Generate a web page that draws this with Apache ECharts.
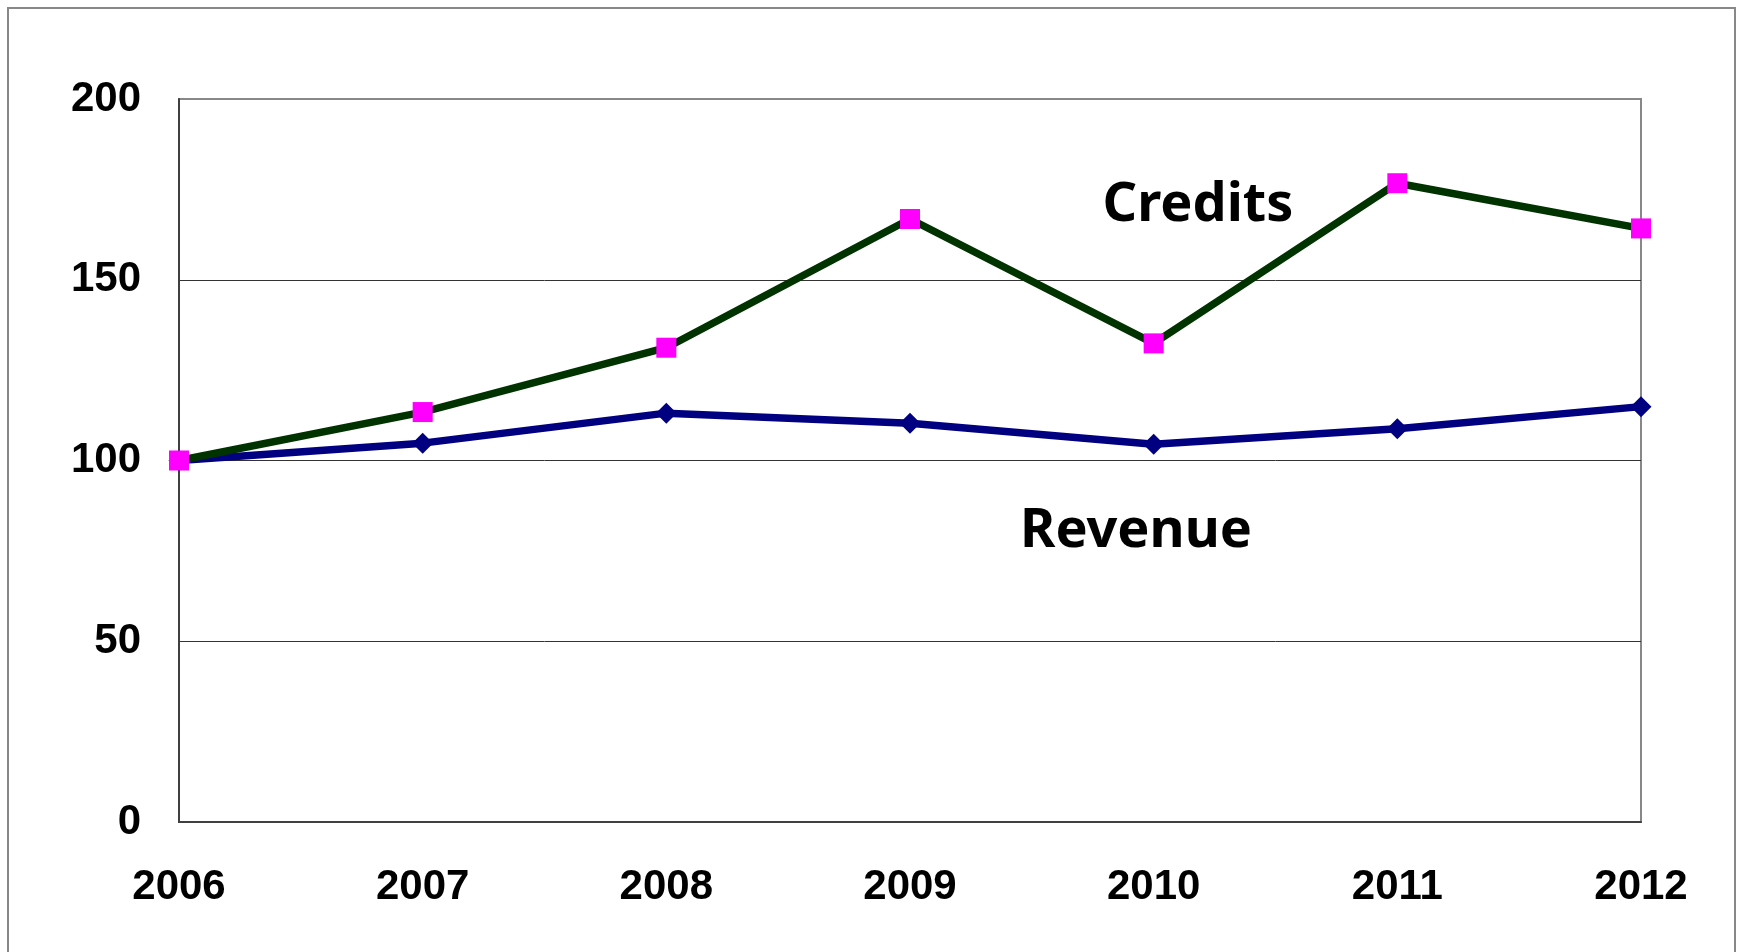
<!DOCTYPE html>
<html>
<head>
<meta charset="utf-8">
<style>html,body{margin:0;padding:0;background:#fff;}#c{width:1742px;height:952px;}</style>
<script src="https://cdn.jsdelivr.net/npm/echarts@6/dist/echarts.min.js"></script>
</head>
<body>
<div id="c"></div>
<script>
const years = ['2006','2007','2008','2009','2010','2011','2012'];
const revenue = [100, 104.8, 113.1, 110.3, 104.5, 108.8, 114.9];
const credits = [100, 113.4, 131.2, 166.8, 132.4, 176.7, 164.2];
const yTicks = { min: 0, max: 200, interval: 50 };
const seriesNames = ['Revenue', 'Credits'];

const chart = echarts.init(document.getElementById('c'), null, { renderer: 'canvas' });
const option = {
  animation: false,
  backgroundColor: '#fff',
  grid: { left: 179, right: 101, top: 99, bottom: 130, show: true, borderColor: '#888', borderWidth: 2, backgroundColor: 'transparent' },
  xAxis: {
    type: 'category', data: years, boundaryGap: false,
    axisLine: { show: true, lineStyle: { color: '#404040', width: 2 } },
    axisTick: { show: false },
    axisLabel: { color: '#000', fontFamily: 'Liberation Sans', fontWeight: 'bold', fontSize: 42, margin: 44 },
    splitLine: { show: false }
  },
  yAxis: {
    type: 'value', min: yTicks.min, max: yTicks.max, interval: yTicks.interval,
    axisLine: { show: true, lineStyle: { color: '#404040', width: 2 } },
    axisTick: { show: false },
    axisLabel: { color: '#000', fontFamily: 'Liberation Sans', fontWeight: 'bold', fontSize: 42, margin: 38 },
    splitLine: { show: true, lineStyle: { color: ['#404040', '#333', '#333', '#333', '#888'], width: 1 } }
  },
  series: [
    {
      name: seriesNames[0], type: 'line', data: revenue,
      symbol: 'diamond', symbolSize: [21, 21],
      lineStyle: { color: '#000080', width: 7.5 },
      itemStyle: { color: '#000080' }, z: 3
    },
    {
      name: seriesNames[1], type: 'line', data: credits,
      symbol: 'rect', symbolSize: 20,
      lineStyle: { color: '#003300', width: 7.5 },
      itemStyle: { color: '#ff00ff' }, z: 4
    }
  ],
  graphic: [
    { type: 'rect', shape: { x: 8, y: 8, width: 1727, height: 960 }, style: { fill: 'none', stroke: '#888', lineWidth: 2 }, z: 0, silent: true },
    { type: 'text', x: 1198, y: 206, style: { text: 'Credits', font: 'bold 54px "Noto Sans"', fill: '#000', textAlign: 'center', textVerticalAlign: 'middle' }, z: 10 },
    { type: 'text', x: 1136, y: 532, style: { text: 'Revenue', font: 'bold 54px "Noto Sans"', fill: '#000', textAlign: 'center', textVerticalAlign: 'middle' }, z: 10 }
  ]
};
chart.setOption(option);
</script>
</body>
</html>
